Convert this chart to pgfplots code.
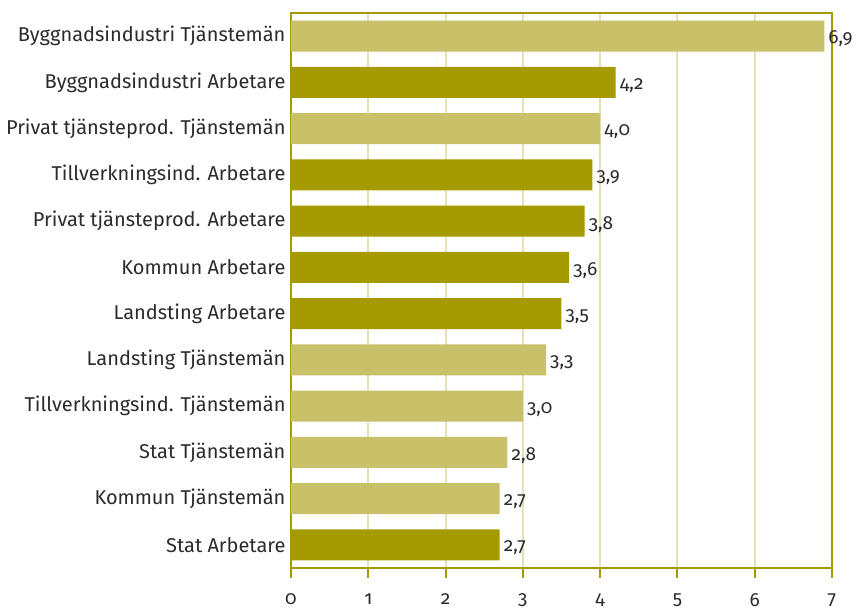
\documentclass[border=0pt]{standalone}
\usepackage{fontspec}
\setmainfont{Fira Sans}[Numbers=OldStyle]
\usepackage{pgfplots}
\pgfplotsset{compat=1.18}
\definecolor{lightol}{HTML}{C9C06A}
\definecolor{darkol}{HTML}{A59A00}
\definecolor{gridc}{HTML}{E6E0B4}
\definecolor{txt}{HTML}{2B2B2B}
\newcommand{\lab}{\fontsize{20}{24}\selectfont}
\newcommand{\vlab}{\fontsize{19}{23}\selectfont}
\begin{document}
\begin{tikzpicture}
\begin{axis}[
  at={(0,0)}, anchor=south west,
  width=541pt, height=555pt, scale only axis,
  xbar, bar width=31pt, bar shift=0pt,
  xmin=0, xmax=7, ymin=-0.5, ymax=11.5, y dir=reverse,
  ytick={0,...,11},
  yticklabels={Byggnadsindustri Tjänstemän, Byggnadsindustri Arbetare, Privat tjänsteprod. Tjänstemän, Tillverkningsind. Arbetare, Privat tjänsteprod. Arbetare, Kommun Arbetare, Landsting Arbetare, Landsting Tjänstemän, Tillverkningsind. Tjänstemän, Stat Tjänstemän, Kommun Tjänstemän, Stat Arbetare},
  xtick={0,...,7},
  xmajorgrids, grid style={gridc, line width=2pt},
  axis line style={darkol, line width=2pt},
  xtick pos=bottom, xtick align=outside,
  x tick style={darkol, line width=2pt}, major tick length=10pt,
  ytick style={draw=none},
  tick label style={text=txt},
  yticklabel style={font=\lab, xshift=8pt},
  xticklabel style={font=\vlab, yshift=-12pt},
  /pgf/number format/assume math mode=true,
  /pgf/number format/use comma,
  nodes near coords,
  nodes near coords style={anchor=west, font=\vlab, text=txt, inner sep=1pt, xshift=3pt, yshift=-3pt,
    /pgf/number format/fixed, /pgf/number format/fixed zerofill, /pgf/number format/precision=1, /pgf/number format/use comma},
]
\addplot[fill=lightol, draw=none] coordinates {(6.9,0) (4.0,2) (3.3,7) (3.0,8) (2.8,9) (2.7,10)};
\addplot[fill=darkol, draw=none] coordinates {(4.2,1) (3.9,3) (3.8,4) (3.6,5) (3.5,6) (2.7,11)};
\end{axis}
\pgfresetboundingbox
\path (-291pt,-42pt) rectangle (570pt,568pt);
\end{tikzpicture}
\end{document}
